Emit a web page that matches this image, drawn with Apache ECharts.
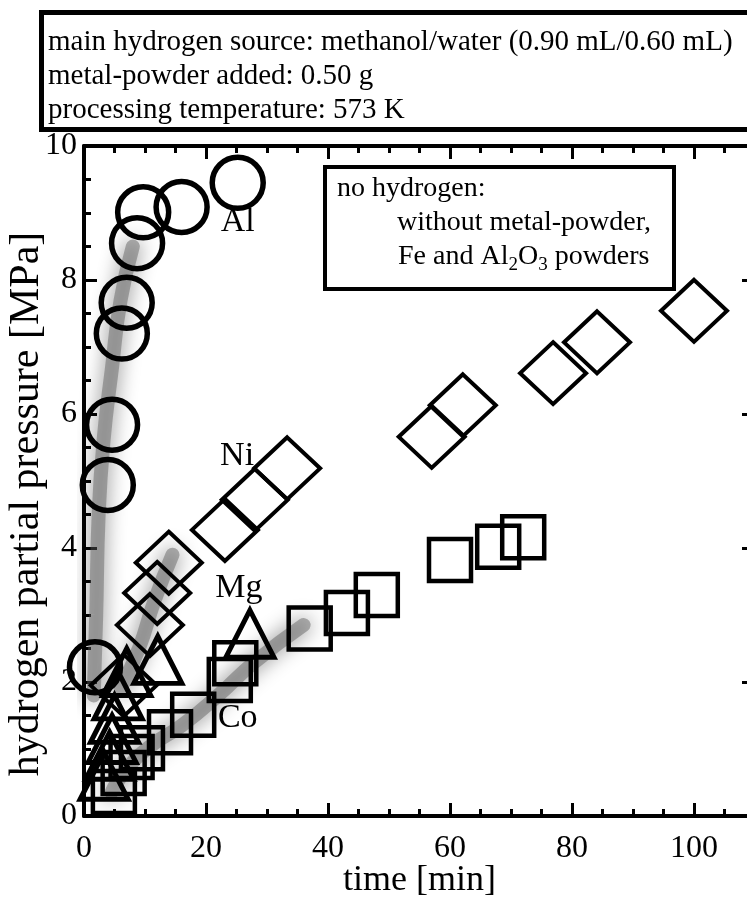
<!DOCTYPE html>
<html>
<head>
<meta charset="utf-8">
<script src="https://cdn.jsdelivr.net/npm/echarts@6/dist/echarts.min.js"></script>
<style>html,body{margin:0;padding:0;background:#fff;}#c{width:747px;height:906px;}</style>
</head>
<body>
<div id="c"></div>
<script>
// ---- data ----
const alTime = [1.8, 3.9, 4.6, 6.2, 7.0, 8.7, 9.7, 16.0, 25.2];
const alPressure = [2.22, 4.94, 5.84, 7.2, 7.66, 8.55, 9.01, 9.09, 9.45];
const niTime = [6.5, 10.8, 12.0, 13.9, 23.1, 28.0, 33.3, 57.0, 62.1, 76.9, 84.1, 100];
const niPressure = [1.95, 2.85, 3.33, 3.78, 4.27, 4.72, 5.19, 5.66, 6.13, 6.61, 7.07, 7.54];
const coTime = [4.9, 6.5, 7.8, 9.5, 14.1, 17.9, 23.9, 24.8, 37.0, 43.1, 48.0, 60.0, 67.9, 72.0];
const coPressure = [0.36, 0.64, 0.88, 1.01, 1.25, 1.51, 2.03, 2.28, 2.80, 3.03, 3.30, 3.82, 4.02, 4.16];
const mgTime = [3.3, 4.2, 4.6, 5.0, 5.6, 7.0, 12.1, 27.2];
const mgPressure = [0.6, 0.9, 1.15, 1.45, 1.8, 2.15, 2.33, 2.72];
// trend shadows
const alTrendTime = [1.6, 2.0, 2.4, 3.2, 4.6, 6.0, 8.0];
const alTrendPressure = [1.8, 3.0, 4.5, 5.6, 6.7, 7.7, 8.5];
const niTrendTime = [6.0, 9.0, 11.5, 14.5];
const niTrendPressure = [1.9, 2.5, 3.2, 3.9];
const coTrendTime = [4.5, 7.0, 11.0, 16.0, 22.0, 28.0, 36.0];
const coTrendPressure = [0.35, 0.7, 1.05, 1.35, 1.8, 2.3, 2.85];
// series labels
const labelNames = ['Al', 'Ni', 'Mg', 'Co'];
const labelTime = [25.2, 25.1, 25.4, 25.2];
const labelPressure = [8.87, 5.37, 3.40, 1.46];
// axis
const xMin = 0, xMax = 110, xStep = 20;
const yMin = 0, yMax = 10, yStep = 2;
const xTitle = 'time [min]';
const yTitle = 'hydrogen partial pressure [MPa]';
const infoLines = ['main hydrogen source: methanol/water (0.90 mL/0.60 mL)', 'metal-powder added: 0.50 g', 'processing temperature: 573 K'];
const noteLines = ['no hydrogen:', 'without metal-powder,', 'Fe and Al{sub|2}O{sub|3} powders'];

const pairs = (xs, ys) => xs.map((x, i) => [x, ys[i]]);
const FONT = '"Liberation Serif", "Times New Roman", serif';

const chart = echarts.init(document.getElementById('c'), null, {renderer: 'canvas'});

function axisCommon() {
  return {
    axisLine: {show: true, onZero: false, lineStyle: {color: '#000', width: 4}},
    axisTick: {show: true, inside: true, length: 13, lineStyle: {color: '#000', width: 3}},
    minorTick: {show: true, splitNumber: 4, length: 7, lineStyle: {color: '#000', width: 3}},
    splitLine: {show: false}
  };
}

function markerSeries(name, xs, ys, symbol, size, bw) {
  return {
    name, type: 'scatter', data: pairs(xs, ys), symbol, symbolSize: size, z: 5,
    itemStyle: {color: 'rgba(0,0,0,0)', borderColor: '#000', borderWidth: bw, opacity: 1},
    emphasis: {disabled: true}, silent: true
  };
}
function trendSeries(xs, ys) {
  return {
    type: 'line', data: pairs(xs, ys), smooth: true, symbol: 'none', z: 1, silent: true,
    lineStyle: {color: 'rgba(90,90,90,0.45)', width: 14, cap: 'round', shadowBlur: 20, shadowColor: 'rgba(0,0,0,1)'}
  };
}

const option = {
  animation: false,
  backgroundColor: '#fff',
  grid: {left: 84, top: 146, width: 671, height: 670, containLabel: false, outerBoundsMode: 'none'},
  xAxis: [
    Object.assign(axisCommon(), {
      type: 'value', min: xMin, max: xMax, interval: xStep, position: 'bottom',
      name: xTitle, nameLocation: 'middle', nameGap: 47, nameMoveOverlap: false,
      nameTextStyle: {fontFamily: FONT, fontSize: 36, color: '#000'},
      axisLabel: {fontFamily: FONT, fontSize: 32, color: '#000', margin: 17, showMaxLabel: false}
    }),
    Object.assign(axisCommon(), {
      type: 'value', min: xMin, max: xMax, interval: xStep, position: 'top',
      axisLabel: {show: false}
    })
  ],
  yAxis: [
    Object.assign(axisCommon(), {
      type: 'value', min: yMin, max: yMax, interval: yStep, position: 'left',
      name: yTitle, nameLocation: 'middle', nameGap: 36, nameMoveOverlap: false,
      nameTextStyle: {fontFamily: FONT, fontSize: 42, color: '#000', padding: [0, 46, 0, 0]},
      axisLabel: {fontFamily: FONT, fontSize: 32, color: '#000', margin: 7}
    }),
    Object.assign(axisCommon(), {
      type: 'value', min: yMin, max: yMax, interval: yStep, position: 'right',
      axisLabel: {show: false}
    })
  ],
  series: [
    trendSeries(alTrendTime, alTrendPressure),
    trendSeries(niTrendTime, niTrendPressure),
    trendSeries(coTrendTime, coTrendPressure),
    markerSeries('Al', alTime, alPressure, 'circle', 51, 5.5),
    markerSeries('Ni', niTime, niPressure, 'diamond', [66, 62], 4),
    markerSeries('Co', coTime, coPressure, 'rect', 42, 4.5),
    markerSeries('Mg', mgTime, mgPressure, 'triangle', [48, 47], 5),
    {
      type: 'scatter', symbolSize: 0, z: 6, silent: true,
      itemStyle: {opacity: 1},
      data: labelNames.map((n, i) => ({value: [labelTime[i], labelPressure[i]], name: n})),
      label: {show: true, position: 'inside', formatter: p => p.name, fontFamily: FONT, fontSize: 34, color: '#000'}
    }
  ],
  graphic: [
    {type: 'rect', left: 39, top: 10, shape: {width: 740, height: 117}, style: {fill: '#fff', stroke: '#000', lineWidth: 5}, z: 10},
    {type: 'text', left: 48, top: 25, z: 11, style: {text: infoLines.join('\n'), font: '29px ' + FONT, fill: '#000', lineHeight: 34}},
    {type: 'rect', left: 323, top: 165, shape: {width: 349, height: 122}, style: {fill: '#fff', stroke: '#000', lineWidth: 4}, z: 10},
    {type: 'text', left: 337, top: 175, z: 11, style: {text: noteLines[0], font: '28px ' + FONT, fill: '#000'}},
    {type: 'text', left: 397, top: 209, z: 11, style: {text: noteLines[1], font: '28px ' + FONT, fill: '#000'}},
    {type: 'text', left: 398, top: 243, z: 11, style: {
      text: noteLines[2], font: '28px ' + FONT, fill: '#000',
      rich: {sub: {fontSize: 19, fontFamily: FONT, padding: [16, 0, 0, 0]}}
    }}
  ]
};
chart.setOption(option);
</script>
</body>
</html>
